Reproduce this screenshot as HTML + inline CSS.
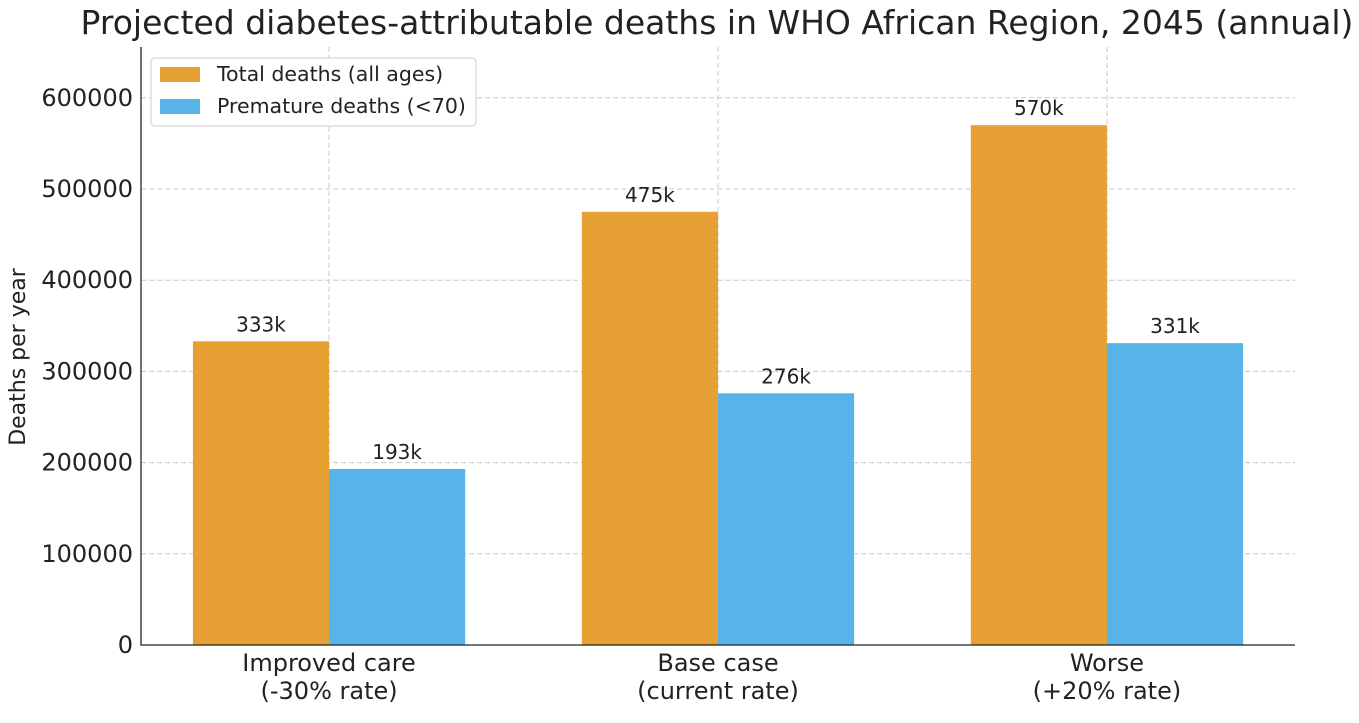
<!DOCTYPE html>
<html><head><meta charset="utf-8"><style>
body{margin:0;background:#fff;}
svg text{font-family:"DejaVu Sans","Liberation Sans",sans-serif;fill:#222;}
</style></head><body>
<svg id="chart" width="1359" height="718" viewBox="0 0 1359 718" xmlns="http://www.w3.org/2000/svg"></svg>
<script>
const categories = ["Improved care\n(-30% rate)", "Base case\n(current rate)", "Worse\n(+20% rate)"];
const totalDeaths = [333000, 475000, 570000];
const prematureDeaths = [193000, 276000, 331000];
const totalLabels = ["333k", "475k", "570k"];
const prematureLabels = ["193k", "276k", "331k"];
const yTicks = [0, 100000, 200000, 300000, 400000, 500000, 600000];

const NS = "http://www.w3.org/2000/svg";
const svg = document.getElementById('chart');
const L = 141, R = 1295, T = 47, B = 645;
const yMax = 655700, xMin = -0.4835, xMax = 2.4835, bw = 0.35;
const y = v => B - v / yMax * (B - T);
const x = v => L + (v - xMin) / (xMax - xMin) * (R - L);
function mk(tag, attrs, text) {
  const e = document.createElementNS(NS, tag);
  for (const k in attrs) e.setAttribute(k, attrs[k]);
  if (text !== undefined) e.textContent = text;
  svg.appendChild(e);
  return e;
}
yTicks.forEach((t, i) => {
  const g = mk('line', {x1: L, x2: R, y1: y(t), y2: y(t), stroke: '#c8c8c8', 'stroke-dasharray': '5,3', 'stroke-width': 1});
  
  
  const tl = mk('text', {x: L - 8, y: y(t) + 8, 'text-anchor': 'end', 'font-size': 24}, String(t));
  
  
});
categories.forEach((c, i) => {
  const g = mk('line', {x1: x(i), x2: x(i), y1: T, y2: B, stroke: '#c8c8c8', 'stroke-dasharray': '5,3', 'stroke-width': 1});
  
  
});
categories.forEach((c, i) => {
  const x0 = x(i - bw), x1 = x(i), x2 = x(i + bw);
  const b1 = mk('rect', {x: x0, y: y(totalDeaths[i]), width: x1 - x0, height: B - y(totalDeaths[i]), fill: '#E6A033'});
  
  
  const b2 = mk('rect', {x: x1, y: y(prematureDeaths[i]), width: x2 - x1, height: B - y(prematureDeaths[i]), fill: '#56B4E9'});
  
  
  const l1 = mk('text', {x: (x0 + x1) / 2, y: y(totalDeaths[i]) - 10, 'text-anchor': 'middle', 'font-size': 20}, totalLabels[i]);
  
  
  const l2 = mk('text', {x: (x1 + x2) / 2, y: y(prematureDeaths[i]) - 10, 'text-anchor': 'middle', 'font-size': 20}, prematureLabels[i]);
  
  
  c.split('\n').forEach((line, j) => {
    const t = mk('text', {x: x(i), y: 671 + j * 28, 'text-anchor': 'middle', 'font-size': 24}, line);
    
    
  });
});
const ax = mk('path', {d: `M${L},${T} L${L},${B} L${R},${B}`, fill: 'none', stroke: '#222', 'stroke-width': 1.3});


</script>
<svg style="position:absolute;left:0;top:0" width="1359" height="718">
  <text x="717" y="34" text-anchor="middle" font-size="33">Projected diabetes-attributable deaths in WHO African Region, 2045 (annual)</text>
  <text transform="translate(25,357) rotate(-90)" text-anchor="middle" font-size="22">Deaths per year</text>
  <g>
    <rect x="151" y="58" width="325" height="68" rx="4" fill="#fff" fill-opacity="0.85" stroke="#ccc"/>
    <rect x="160" y="67" width="40" height="15" fill="#E6A033"/>
    <text x="217" y="81" font-size="20.5">Total deaths (all ages)</text>
    <rect x="160" y="99" width="40" height="15" fill="#56B4E9"/>
    <text x="217" y="113" font-size="20.5">Premature deaths (&lt;70)</text>
  </g>
</svg>
</body></html>
